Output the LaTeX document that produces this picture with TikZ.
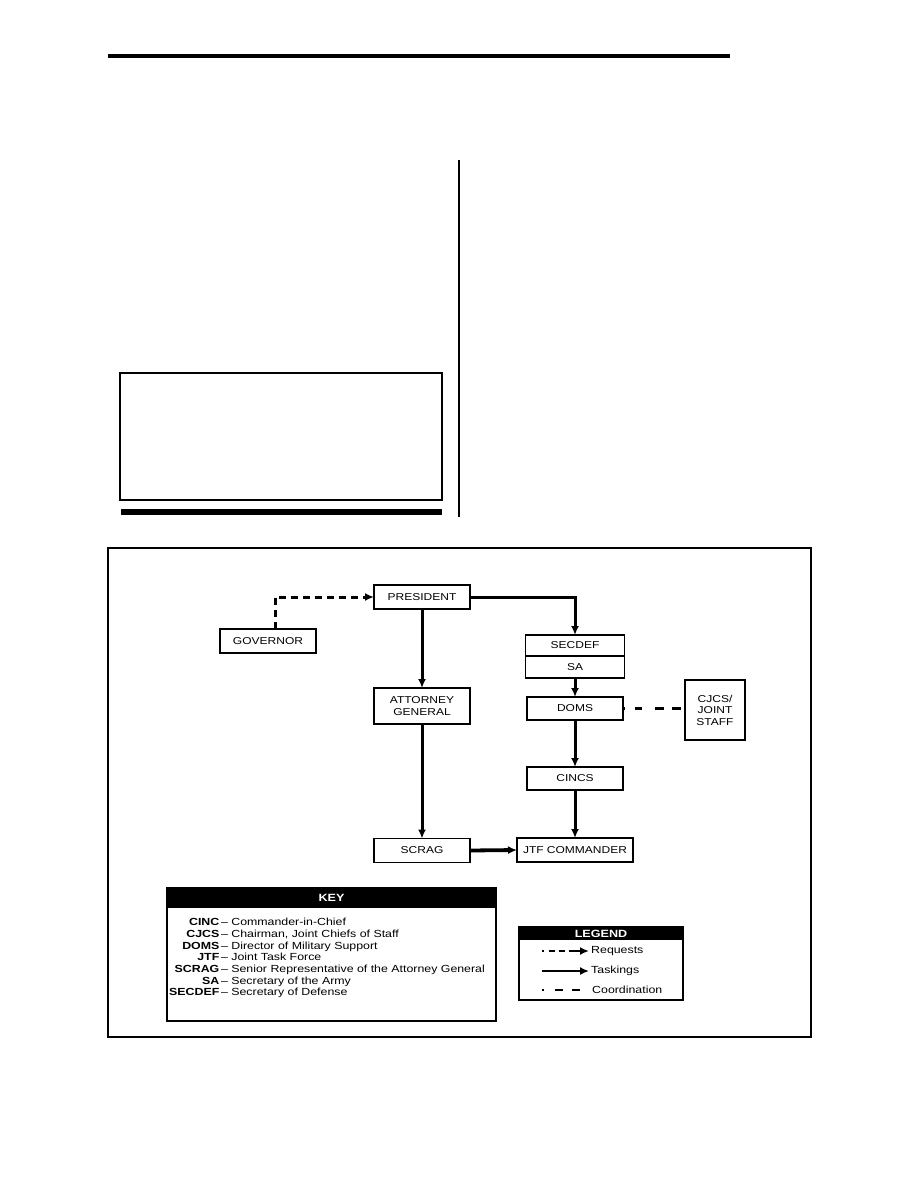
\documentclass[tikz,border=0pt]{standalone}
\usepackage{fontspec}
\setmainfont{Liberation Sans}[FakeStretch=1.2]
\usetikzlibrary{
  arrows.meta,
  positioning
}
\tikzset{
  orgbox/.style={draw,line width=1.7pt,outer sep=0pt,minimum width=96pt,minimum height=24pt,inner sep=1pt,align=center,font=\fontsize{10}{11.5}\selectfont},
  framebox/.style={draw,line width=1.4pt,outer sep=0pt,inner sep=0pt},
  headbar/.style={fill=black,text=white,outer sep=0pt,inner sep=0pt,font=\fontsize{10.5}{11}\selectfont\bfseries},
  keytext/.style={inner sep=0pt,font=\fontsize{10.3}{11.7}\selectfont},
  tasking/.style={-{Latex[length=9pt,width=8pt]},line width=3pt},
  request/.style={-{Latex[length=9pt,width=8pt]},line width=3pt,dash pattern=on 7pt off 5pt},
  coordline/.style={line width=3pt,dash pattern=on 1.5pt off 10pt on 7pt off 13pt on 9pt off 8pt on 9pt off 4pt}
}

\begin{document}
\begin{tikzpicture}[x=1pt,y=-1pt]
\useasboundingbox (0,0) rectangle (918,1188);

% Page furniture above the figure.
\draw[line width=3.5pt] (108,56) -- (730,56);
\draw[line width=1.5pt] (459,160) -- (459,517);
\draw[line width=2pt] (119.5,373) rectangle (442,500);
\fill (121,509) rectangle (442,515);
\draw[line width=1.8pt] (108,548) rectangle (811,1037);

% Organisation boxes.
\node[orgbox] (pres) at (422,597) {PRESIDENT};
\node[orgbox] (gov) at (268,641) {GOVERNOR};
\node[orgbox,minimum width=99pt,minimum height=21pt] (secdef) at (575,645.5) {SECDEF};
\node[orgbox,minimum width=99pt,minimum height=22pt,below=0pt of secdef] (sa) {SA};
\node[orgbox,minimum height=36pt] (atty) at (422,706) {ATTORNEY\\GENERAL};
\node[orgbox,minimum height=23pt] (doms) at (575,708.5) {DOMS};
\node[orgbox,minimum width=60pt,minimum height=60pt] (cjcs) at (715,710) {CJCS/\\JOINT\\STAFF};
\node[orgbox,minimum height=23pt] (cincs) at (575,778.5) {CINCS};
\node[orgbox] (scrag) at (422,850.5) {SCRAG};
\node[orgbox,minimum width=116pt] (jtf) at (575,850) {JTF COMMANDER};

% Requests, taskings and coordination.
\draw[request] ([xshift=7pt]gov.north) |- (pres.west);
\draw[tasking] (pres.east) -| (secdef.north);
\draw[tasking] (pres.south) -- (atty.north);
\draw[tasking] (sa.south) -- (doms.north);
\draw[tasking] (doms.south) -- (cincs.north);
\draw[tasking] (cincs.south) -- (jtf.north);
\draw[tasking] (atty.south) -- (scrag.north);
\draw[tasking,line width=3.8pt] (scrag.east) -- (jtf.west);
\draw[coordline] (doms.east) -- (doms.east -| cjcs.west);

% Key.
\node[framebox,minimum width=329pt,minimum height=133pt] (keybox) at (331.5,954.5) {};
\node[headbar,minimum width=329pt,minimum height=20pt,anchor=north] (keyhd) at (keybox.north) {KEY};
\node[keytext,anchor=base west] (keylist) at (169,925.6) {%
  \begin{tabular}[t]{@{}r@{\,--\ }l@{}}
  \textbf{CINC} & Commander-in-Chief\\
  \textbf{CJCS} & Chairman, Joint Chiefs of Staff\\
  \textbf{DOMS} & Director of Military Support\\
  \textbf{JTF} & Joint Task Force\\
  \textbf{SCRAG} & Senior Representative of the Attorney General\\
  \textbf{SA} & Secretary of the Army\\
  \textbf{SECDEF} & Secretary of Defense
  \end{tabular}};

% Legend.
\node[framebox,minimum width=164pt,minimum height=73pt] (legbox) at (601,963.5) {};
\node[headbar,minimum width=164pt,minimum height=13pt,anchor=north] (leghd) at (legbox.north) {LEGEND};
\coordinate (rqa) at (542,951);
\coordinate (rqb) at (589,951);
\coordinate (tka) at (542,971);
\coordinate (tkb) at (589,971);
\coordinate (coa) at (542,990);
\coordinate (cob) at (581,990);
\draw[-{Latex[length=9pt,width=8pt]},line width=2pt,dash pattern=on 1.5pt off 5pt on 6pt off 4pt on 6pt off 4pt on 20pt] (rqa) -- (rqb);
\draw[-{Latex[length=9pt,width=8pt]},line width=1.6pt] (tka) -- (tkb);
\draw[line width=2.2pt,dash pattern=on 1.5pt off 11pt on 8pt off 9pt on 8pt off 20pt] (coa) -- (cob);
\node[keytext,anchor=west] (rqtext) at (591,951) {Requests};
\node[keytext,anchor=west] (tktext) at (591,971) {Taskings};
\node[keytext,anchor=west] (cotext) at (592,990) {Coordination};
\end{tikzpicture}
\end{document}
